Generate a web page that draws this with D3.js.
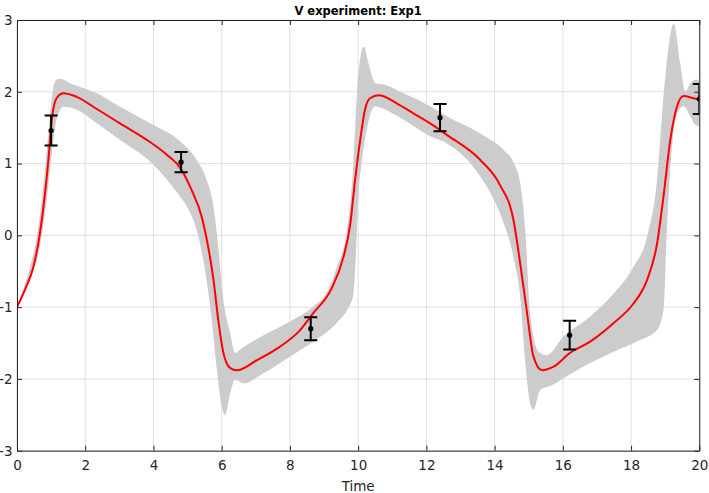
<!DOCTYPE html>
<html><head><meta charset="utf-8">
<script src="https://cdn.jsdelivr.net/npm/d3@7"></script>
<style>body{margin:0;background:#fff}svg{display:block}text{font-family:"DejaVu Sans",sans-serif}</style>
</head><body><svg id="c" width="709" height="493"></svg>
<script>
const title = "V experiment: Exp1";
const xLabel = "Time";
const xTicks = [0,2,4,6,8,10,12,14,16,18,20];
const yTicks = [-3,-2,-1,0,1,2,3];

// fitted trajectory
const lineT = [0,0.23,0.48,0.67,0.82,0.92,1.02,1.16,1.36,1.75,2.34,3.02,3.9,4.4,4.8,5.1,5.42,5.56,5.76,5.9,6.05,6.25,6.44,7.03,7.71,8.3,8.69,9.2,9.57,9.77,9.91,10.06,10.2,10.35,10.6,11.13,11.62,12.11,12.6,13.58,14.16,14.55,14.75,14.95,15.14,15.39,15.73,16.2,16.8,17.49,18.07,18.47,18.76,18.95,19.15,19.35,19.54,19.83,20];
const lineV = [-1,-0.76,-0.44,0.02,0.58,1.05,1.61,1.91,1.98,1.93,1.76,1.56,1.3,1.12,0.93,0.65,0.25,-0.05,-0.62,-1.18,-1.64,-1.85,-1.88,-1.74,-1.55,-1.32,-1.08,-0.76,-0.3,0.16,0.77,1.33,1.75,1.91,1.95,1.84,1.7,1.56,1.4,1.05,0.7,0.22,-0.39,-1.08,-1.69,-1.88,-1.83,-1.64,-1.48,-1.22,-0.95,-0.62,-0.12,0.54,1.33,1.8,1.94,1.91,1.89];

// uncertainty band: upper edge
const upperT = [0,0.38,0.58,0.77,0.92,1.07,1.16,1.26,1.55,2.34,3.02,3.9,4.78,5.27,5.56,5.76,5.9,6.05,6.25,6.39,6.6,7.2,8.0,8.69,9.08,9.37,9.67,9.86,9.96,10.16,10.3,10.5,10.74,11.33,12.11,12.6,13.58,14.26,14.55,14.75,14.9,15.04,15.29,15.53,16.02,16.8,17.49,18.07,18.47,18.76,18.95,19.1,19.25,19.44,19.59,19.74,19.93,20];
const upperV = [-0.98,-0.44,-0.02,0.68,1.42,2.07,2.17,2.18,2.12,1.98,1.79,1.56,1.31,1.05,0.77,0.4,-0.16,-0.9,-1.36,-1.64,-1.57,-1.4,-1.2,-0.99,-0.8,-0.45,0.07,1.0,1.94,2.63,2.4,2.12,2.1,1.98,1.8,1.66,1.42,1.19,1.02,0.73,0.07,-1.08,-1.62,-1.67,-1.41,-1.13,-0.81,-0.44,-0.02,0.77,1.94,2.63,2.95,2.4,2.0,2.12,2.17,2.14];

// uncertainty band: lower edge
const lowerT = [0,0.38,0.67,0.87,1.02,1.16,1.36,1.75,2.34,3.02,3.9,4.78,4.98,5.27,5.51,5.71,5.86,6.0,6.1,6.25,6.39,6.64,7.22,8.0,8.69,9.37,9.7,9.85,9.93,10.0,10.1,10.25,10.5,10.7,11.33,12.11,12.6,13.58,14.16,14.55,14.75,14.9,15.04,15.14,15.34,15.63,16.02,16.8,17.49,18.17,18.76,18.95,19.05,19.2,19.35,19.54,19.74,19.88,20];
const lowerV = [-1.02,-0.62,-0.16,0.49,1.14,1.61,1.79,1.75,1.56,1.33,1.03,0.54,0.4,0.07,-0.48,-1.18,-1.87,-2.39,-2.5,-2.2,-2.01,-2.06,-1.92,-1.69,-1.48,-1.22,-1.02,-0.85,-0.3,0.5,1.0,1.47,1.8,1.77,1.61,1.38,1.28,0.82,0.3,-0.3,-0.85,-1.78,-2.34,-2.43,-2.15,-2.1,-1.99,-1.78,-1.62,-1.48,-1.32,-1.04,0.08,1.24,1.7,1.8,1.66,1.54,1.52];

// experimental observations
const obsT = [1.0,4.81,8.61,12.4,16.2,20];
const obsV = [1.46,1.02,-1.30,1.64,-1.39,1.9];
const obsErr = [0.21,0.14,0.16,0.19,0.2,0.21];

const svg = d3.select("#c");
const L = 17, R = 699.3, T = 20, B = 450.7;
const x = d3.scaleLinear().domain([0,20]).range([L,R]);
const y = d3.scaleLinear().domain([-3,3]).range([B,T]);
const axisCol = "#262626", gridCol = "#dfdfdf";

svg.append("defs").append("clipPath").attr("id","clip")
  .append("rect").attr("x",L).attr("y",T).attr("width",R-L).attr("height",B-T);

// grid
const g = svg.append("g");
g.selectAll(".gx").data(xTicks).join("line")
  .attr("x1",d=>x(d)).attr("x2",d=>x(d)).attr("y1",T).attr("y2",B)
  .attr("stroke",gridCol).attr("stroke-width",1);
g.selectAll(".gy").data(yTicks).join("line")
  .attr("y1",d=>y(d)).attr("y2",d=>y(d)).attr("x1",L).attr("x2",R)
  .attr("stroke",gridCol).attr("stroke-width",1);

const plot = svg.append("g").attr("clip-path","url(#clip)");

// band
const up = upperT.map((t,i)=>[x(t),y(upperV[i])]);
const lo = lowerT.map((t,i)=>[x(t),y(lowerV[i])]).reverse();
const edge = d3.line().curve(d3.curveMonotoneX);
const poly = edge(up) + "L" + edge(lo).slice(1) + "Z";
plot.append("path").attr("d",poly).attr("fill","#cccccc").attr("stroke","none");

// red line
const lineData = lineT.map((t,i)=>[t,lineV[i]]);
plot.append("path").datum(lineData)
  .attr("d",d3.line().x(d=>x(d[0])).y(d=>y(d[1])).curve(d3.curveMonotoneX))
  .attr("fill","none").attr("stroke","#ff0000").attr("stroke-width",2);

// error bars
const obs = obsT.map((t,i)=>({t,v:obsV[i],e:obsErr[i]}));
const eb = plot.selectAll(".eb").data(obs).join("g");
eb.append("line").attr("x1",d=>x(d.t)).attr("x2",d=>x(d.t))
  .attr("y1",d=>y(d.v+d.e)).attr("y2",d=>y(d.v-d.e));
eb.append("line").attr("x1",d=>x(d.t)-6.5).attr("x2",d=>x(d.t)+6.5)
  .attr("y1",d=>y(d.v+d.e)).attr("y2",d=>y(d.v+d.e));
eb.append("line").attr("x1",d=>x(d.t)-6.5).attr("x2",d=>x(d.t)+6.5)
  .attr("y1",d=>y(d.v-d.e)).attr("y2",d=>y(d.v-d.e));
eb.selectAll("line").attr("stroke","#000").attr("stroke-width",2);
eb.append("circle").attr("cx",d=>x(d.t)).attr("cy",d=>y(d.v)).attr("r",2.6).attr("fill","#000");

// axes
function styleAxis(sel){
  sel.selectAll(".domain").attr("stroke",axisCol).attr("stroke-width",1);
  sel.selectAll(".tick line").attr("stroke",axisCol).attr("stroke-width",1);
  sel.selectAll("text").attr("fill",axisCol).style("font-size","13.5px").style("font-family","DejaVu Sans");
}
const fmt = d => d < 0 ? "-" + Math.abs(d) : String(d);
svg.append("g").attr("transform",`translate(0,${B})`)
  .call(d3.axisBottom(x).tickValues(xTicks).tickFormat(fmt).tickSizeInner(-5).tickSizeOuter(0).tickPadding(10))
  .call(styleAxis);
svg.append("g").attr("transform",`translate(0,${T})`)
  .call(d3.axisTop(x).tickValues(xTicks).tickFormat("").tickSizeInner(-5).tickSizeOuter(0))
  .call(styleAxis);
svg.append("g").attr("transform",`translate(${L},0)`)
  .call(d3.axisLeft(y).tickValues(yTicks).tickFormat(fmt).tickSizeInner(-5).tickSizeOuter(0).tickPadding(4.5))
  .call(styleAxis);
svg.append("g").attr("transform",`translate(${R},0)`)
  .call(d3.axisRight(y).tickValues(yTicks).tickFormat("").tickSizeInner(-5).tickSizeOuter(0))
  .call(styleAxis);

svg.append("text").attr("x",(L+R)/2).attr("y",487).attr("text-anchor","middle")
  .attr("dominant-baseline","middle").style("font-size","13.5px").attr("fill",axisCol).text(xLabel);
svg.append("text").attr("x",(L+R)/2).attr("y",14.5).attr("text-anchor","middle")
  .style("font-size","11.5px").style("font-weight","bold").attr("fill","#000").text(title);
</script></body></html>
